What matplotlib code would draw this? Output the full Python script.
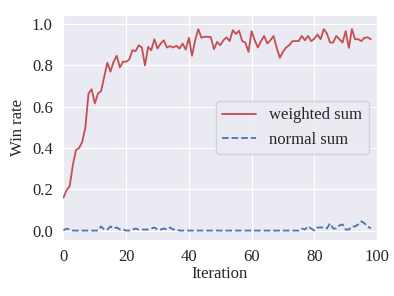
import matplotlib
matplotlib.use('Agg')
import matplotlib.pyplot as plt
import numpy as np
import seaborn as sns

# win rate per iteration
weighted_sum = [0.159, 0.196, 0.215, 0.317, 0.39, 0.40, 0.43, 0.50, 0.664, 0.685,
                0.616, 0.664, 0.675, 0.745, 0.813, 0.77, 0.818, 0.847, 0.79, 0.818,
                0.818, 0.829, 0.874, 0.869, 0.898, 0.887, 0.80, 0.89, 0.874, 0.927,
                0.882, 0.906, 0.922, 0.887, 0.894, 0.887, 0.895, 0.882, 0.906, 0.877,
                0.934, 0.847, 0.922, 0.976, 0.934, 0.939, 0.939, 0.937, 0.879, 0.914,
                0.898, 0.922, 0.936, 0.918, 0.971, 0.952, 0.968, 0.918, 0.911, 0.866,
                0.966, 0.922, 0.887, 0.918, 0.943, 0.906, 0.922, 0.943, 0.885, 0.837,
                0.866, 0.887, 0.898, 0.918, 0.918, 0.918, 0.943, 0.922, 0.943, 0.918,
                0.93, 0.95, 0.927, 0.976, 0.955, 0.911, 0.911, 0.943, 0.927, 0.911,
                0.966, 0.885, 0.976, 0.927, 0.927, 0.918, 0.934, 0.936, 0.927]
normal_sum = [0.0, 0.01, 0.005, 0.0, 0.0, 0.0, 0.0, 0.0, 0.0, 0.0,
              0.0, 0.0, 0.02, 0.005, 0.005, 0.02, 0.01, 0.015, 0.005, 0.005,
              0.0, 0.0, 0.005, 0.01, 0.005, 0.005, 0.005, 0.005, 0.01, 0.015,
              0.005, 0.005, 0.01, 0.005, 0.015, 0.005, 0.005, 0.0, 0.0, 0.0,
              0.0, 0.0, 0.0, 0.0, 0.0, 0.0, 0.0, 0.0, 0.0, 0.0,
              0.0, 0.0, 0.0, 0.0, 0.0, 0.0, 0.0, 0.0, 0.0, 0.0,
              0.0, 0.0, 0.0, 0.0, 0.0, 0.0, 0.0, 0.0, 0.0, 0.0,
              0.0, 0.0, 0.0, 0.0, 0.0, 0.0, 0.01, 0.005, 0.02, 0.01,
              0.0, 0.015, 0.015, 0.015, 0.01, 0.035, 0.01, 0.01, 0.025, 0.03,
              0.005, 0.005, 0.02, 0.02, 0.03, 0.045, 0.035, 0.02, 0.01]
iterations = np.arange(len(weighted_sum))

sns.set_style('darkgrid')
plt.rcParams['font.family'] = ['Liberation Serif', 'DejaVu Serif']

fig = plt.figure(figsize=(3.94, 2.96), dpi=100)
ax = fig.add_axes([0.157, 0.189, 0.80, 0.76])

ax.plot(iterations, weighted_sum, color='#C44E52', lw=1.3, label='weighted sum')
ax.plot(iterations, normal_sum, color='#4C72B0', lw=1.3, ls='--', label='normal sum')

ax.set_xlim(-0.5, 100)
ax.set_ylim(-0.046, 1.044)
ax.set_xticks([0, 20, 40, 60, 80, 100])
ax.set_yticks([0.0, 0.2, 0.4, 0.6, 0.8, 1.0])
ax.tick_params(labelsize=12, pad=3)
ax.set_xlabel('Iteration', fontsize=12, labelpad=1)
ax.set_ylabel('Win rate', fontsize=12, labelpad=4)
ax.legend(loc='center right', fontsize=12)

fig.savefig('out.png', dpi=100)
